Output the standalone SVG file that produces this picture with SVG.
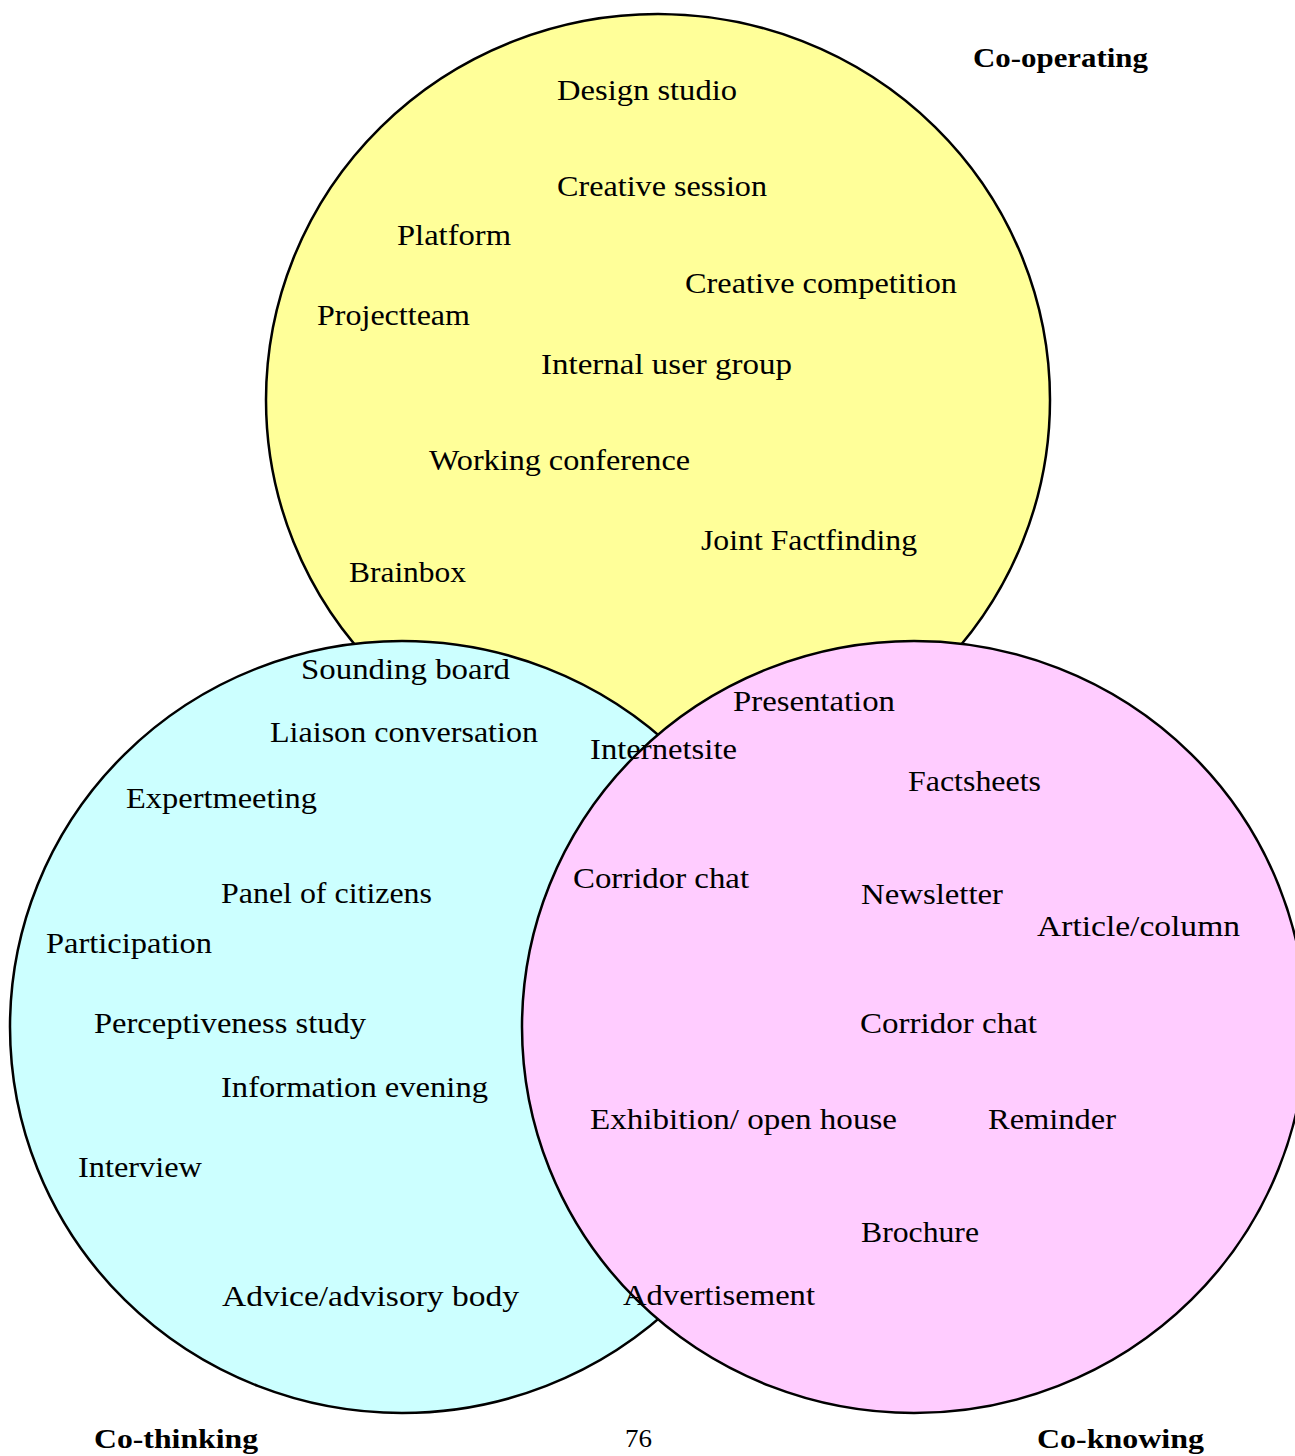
<svg xmlns="http://www.w3.org/2000/svg" width="1295" height="1456" viewBox="0 0 1295 1456">
<style>
.c{stroke:#000;stroke-width:2.5}
.t{font-family:"Liberation Serif","Times New Roman",serif;font-size:30px;fill:#000}
.b{font-family:"Liberation Serif","Times New Roman",serif;font-size:28px;font-weight:bold;fill:#000}
</style>
<rect width="1295" height="1456" fill="#fff"/>
<g id="co-operating">
<ellipse class="c" cx="658" cy="400" rx="392" ry="386" fill="#FFFF99"/>
</g>
<g id="co-thinking">
<ellipse class="c" cx="402" cy="1027" rx="392" ry="386" fill="#CCFFFF"/>
</g>
<g id="co-knowing">
<ellipse class="c" cx="914" cy="1027" rx="392" ry="386" fill="#FFCCFF"/>
</g>
<g id="labels-co-operating">
<text class="t" x="557" y="100" textLength="180" lengthAdjust="spacingAndGlyphs">Design studio</text>
<text class="t" x="557" y="196" textLength="210" lengthAdjust="spacingAndGlyphs">Creative session</text>
<text class="t" x="397" y="245" textLength="114" lengthAdjust="spacingAndGlyphs">Platform</text>
<text class="t" x="685" y="293" textLength="272" lengthAdjust="spacingAndGlyphs">Creative competition</text>
<text class="t" x="317" y="325" textLength="153" lengthAdjust="spacingAndGlyphs">Projectteam</text>
<text class="t" x="541" y="374" textLength="251" lengthAdjust="spacingAndGlyphs">Internal user group</text>
<text class="t" x="429" y="470" textLength="261" lengthAdjust="spacingAndGlyphs">Working conference</text>
<text class="t" x="701" y="550" textLength="216" lengthAdjust="spacingAndGlyphs">Joint Factfinding</text>
<text class="t" x="349" y="582" textLength="117" lengthAdjust="spacingAndGlyphs">Brainbox</text>
<text class="b" x="973" y="67" textLength="175" lengthAdjust="spacingAndGlyphs">Co-operating</text>
</g>
<g id="labels-co-thinking">
<text class="t" x="301" y="679" textLength="209" lengthAdjust="spacingAndGlyphs">Sounding board</text>
<text class="t" x="270" y="742" textLength="268" lengthAdjust="spacingAndGlyphs">Liaison conversation</text>
<text class="t" x="126" y="808" textLength="191" lengthAdjust="spacingAndGlyphs">Expertmeeting</text>
<text class="t" x="221" y="903" textLength="211" lengthAdjust="spacingAndGlyphs">Panel of citizens</text>
<text class="t" x="46" y="953" textLength="166" lengthAdjust="spacingAndGlyphs">Participation</text>
<text class="t" x="94" y="1033" textLength="272" lengthAdjust="spacingAndGlyphs">Perceptiveness study</text>
<text class="t" x="221" y="1097" textLength="267" lengthAdjust="spacingAndGlyphs">Information evening</text>
<text class="t" x="78" y="1177" textLength="124" lengthAdjust="spacingAndGlyphs">Interview</text>
<text class="t" x="222" y="1306" textLength="297" lengthAdjust="spacingAndGlyphs">Advice/advisory body</text>
<text class="b" x="94" y="1448" textLength="164" lengthAdjust="spacingAndGlyphs">Co-thinking</text>
</g>
<g id="labels-co-knowing">
<text class="t" x="733" y="711" textLength="162" lengthAdjust="spacingAndGlyphs">Presentation</text>
<text class="t" x="590" y="759" textLength="147" lengthAdjust="spacingAndGlyphs">Internetsite</text>
<text class="t" x="908" y="791" textLength="133" lengthAdjust="spacingAndGlyphs">Factsheets</text>
<text class="t" x="573" y="888" textLength="176" lengthAdjust="spacingAndGlyphs">Corridor chat</text>
<text class="t" x="861" y="904" textLength="142" lengthAdjust="spacingAndGlyphs">Newsletter</text>
<text class="t" x="1037" y="936" textLength="203" lengthAdjust="spacingAndGlyphs">Article/column</text>
<text class="t" x="860" y="1033" textLength="177" lengthAdjust="spacingAndGlyphs">Corridor chat</text>
<text class="t" x="590" y="1129" textLength="307" lengthAdjust="spacingAndGlyphs">Exhibition/ open house</text>
<text class="t" x="988" y="1129" textLength="128" lengthAdjust="spacingAndGlyphs">Reminder</text>
<text class="t" x="861" y="1242" textLength="118" lengthAdjust="spacingAndGlyphs">Brochure</text>
<text class="t" x="623" y="1305" textLength="192" lengthAdjust="spacingAndGlyphs">Advertisement</text>
<text class="b" x="1037" y="1448" textLength="167" lengthAdjust="spacingAndGlyphs">Co-knowing</text>
</g>
<g id="connectors"></g>
<text class="t" x="625" y="1447" font-size="26" style="font-size:26px" textLength="27" lengthAdjust="spacingAndGlyphs">76</text>
</svg>
